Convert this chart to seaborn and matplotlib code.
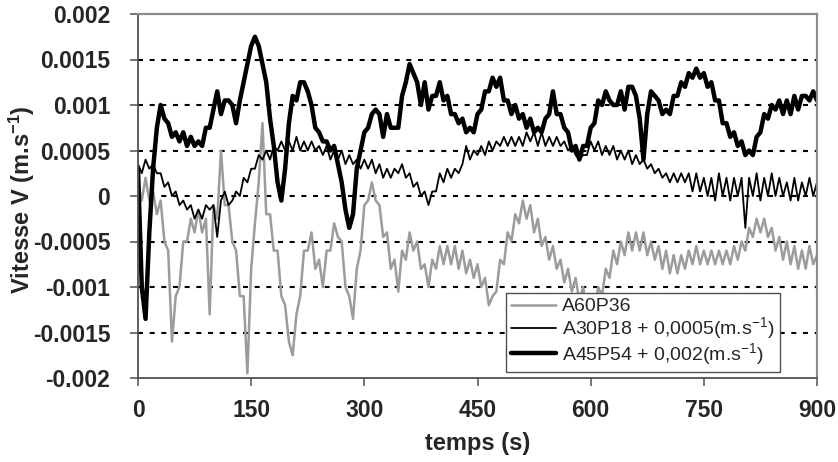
import numpy as np
import pandas as pd
import matplotlib
matplotlib.use("Agg")
import matplotlib.pyplot as plt
import seaborn as sns

# ---------------- data (values in units of 1e-4 m/s, sampled every 5 s) ----------------
time_s = np.arange(0, 901, 5)
UNIT = 1e-4

a60p36_e4 = [
    1.5, -0.5, 2, -0.5, 0.5, -2, -0.5, -5, -6, -16,
    -11, -10, -5, -5, -2.5, -4, -1.5, -4, -2.5, -13,
    -1, -2.5, 5, -1, -1, -5, -6, -11, -11, -19.5,
    -8, -3, 1.5, 8, -2, -2, -6, -6, -11, -12,
    -16, -17.5, -13, -11, -6, -6, -4, -8, -7, -10,
    -6, -6, -3, -4.5, -5, -10, -11, -13.5, -8, -6,
    -1, -0.5, 1.5, -0.5, -1, -4.5, -4, -8, -7, -10.5,
    -6, -7, -4, -6, -5, -8, -7.5, -10, -7, -8,
    -5.5, -7.5, -5.5, -7.5, -5.5, -8, -6, -8.5, -7, -9,
    -7.5, -10, -9, -12, -11, -10.5, -7, -7.5, -4, -5,
    -2, -3, -0.5, -2.5, -1, -4, -2.5, -5.5, -4.5, -7,
    -5.5, -8, -7, -9.5, -8, -10.5, -9, -11.5, -10, -12.5,
    -11, -12.5, -10, -11, -8, -9, -6, -7.5, -5, -6.5,
    -4, -6, -4, -6, -4, -6.5, -5, -7, -5.5, -8,
    -6, -8.5, -6.5, -8.5, -6.5, -8, -6, -7.5, -5.5, -7.5,
    -6, -7.5, -6, -7.5, -6, -7.5, -6, -7.5, -5.5, -7,
    -5, -6, -3.5, -4.5, -2.5, -4, -2.5, -4.5, -3.5, -6,
    -4.5, -7, -5, -7.5, -5.5, -8, -6, -8, -5.5, -7.5,
    -6.5,
]

a30p18_e4 = [
    3.5, 2.5, 4, 3, 3.5, 2.5, 2.5, 1, 1.5, 0,
    0.5, -1, -0.5, -1.5, -1, -2.5, -1.5, -2.5, -1, -1.5,
    -1, -4.5, -0.5, 0.5, -1, -0.5, 0.5, 0, 2, 1.5,
    3, 3, 4.5, 4, 5, 4, 5.5, 5, 6, 5,
    6, 5, 6.5, 5, 6, 5, 6, 5, 5.5, 4.5,
    5.5, 4, 5, 4, 5, 3.5, 4.5, 3.5, 4, 3,
    4, 3, 4, 2.5, 3.5, 2, 3, 2, 3, 2.5,
    3.5, 2, 2.5, 1, 1.5, 0, 0.5, -1, 0.5, 0.5,
    2.5, 1.5, 3, 2, 3, 2.5, 3.5, 5.5, 4, 5,
    4.5, 5.5, 4.5, 6, 5, 6, 5.5, 6.5, 5.5, 6.5,
    5.5, 6.5, 5.5, 7, 6, 7, 5.5, 7, 5.5, 6.5,
    5.5, 6.5, 5.5, 6, 5, 5.5, 4.5, 4, 4.5, 4.5,
    6, 5, 6, 4.5, 5.5, 4.5, 5.5, 4, 5, 4,
    5, 3.5, 4.5, 3.5, 4, 3, 3.5, 2.5, 3, 2,
    2.5, 1.5, 2.5, 1.5, 2.5, 1.5, 2.5, 0.5, 2.5, 0.5,
    2, 0, 2, -0.5, 2.5, 0, 2, -0.5, 2, 0,
    2, -3.5, 2, 0, 2.5, -0.5, 2, 0, 2.5, 0,
    2, 0, 1.5, -0.5, 2, -0.5, 1.5, 0, 2, 0,
    1.5,
]

a45p54_e4 = [
    3, -10, -13.5, -4, 3, 7.5, 10, 8.5, 8, 6.5,
    7, 6, 7, 5.5, 6.5, 5.5, 6, 5.5, 7.5, 7.5,
    9.5, 11.5, 9, 10.5, 10.5, 10, 8, 10.5, 12.5, 14.5,
    16.5, 17.5, 16.5, 14.5, 12.5, 8.5, 5.5, 1.5, -0.5, 3,
    8, 11, 10.5, 12.5, 12.5, 11.5, 10, 7.5, 7, 6,
    6, 5, 5.5, 3.5, 1.5, -1.5, -3.5, -2, 3, 5,
    7, 7.5, 9, 9.5, 9, 6.5, 9, 7.5, 7.5, 7.5,
    11, 12.5, 14.5, 13.5, 12.5, 10, 12.5, 9.5, 11, 11,
    12.5, 10.5, 11, 9, 9, 8, 8.5, 7, 7.5, 7,
    9, 9.5, 11.5, 11.5, 13, 12, 13, 10.5, 10.5, 9,
    10, 8.5, 9, 7.5, 8.5, 7, 7.5, 7, 8.5, 9,
    11.5, 9, 9, 7.5, 7, 5, 5.5, 4, 5.5, 5.5,
    7.5, 8, 10.5, 10, 11.5, 10.5, 10, 10, 11.5, 9.5,
    12, 12, 11, 8.5, 4, 9, 11.5, 11, 10.5, 9,
    9.5, 9, 11, 11, 12.5, 12, 13.5, 13, 14, 13,
    13.5, 12, 12.5, 10.5, 10.5, 8, 8, 6.5, 7, 5.5,
    6, 4.5, 5, 4.5, 6.5, 7, 9, 8.5, 10, 9.5,
    10.5, 9, 10.5, 9, 11, 9.5, 11, 11, 10.5, 11.5,
    10.5,
]

series_labels = ["A60P36",
                 "A30P18 + 0,0005(m.s$^{-1}$)",
                 "A45P54 + 0,002(m.s$^{-1}$)"]
series_values = [a60p36_e4, a30p18_e4, a45p54_e4]
series_colors = ["#9c9c9c", "#000000", "#000000"]
series_widths = [1.8, 1.3, 3.2]

x_ticks = [0, 150, 300, 450, 600, 750, 900]
y_ticks = [-0.002, -0.0015, -0.001, -0.0005, 0, 0.0005, 0.001, 0.0015, 0.002]
y_tick_labels = ["-0.002", "-0.0015", "-0.001", "-0.0005", "0",
                 "0.0005", "0.001", "0.0015", "0.002"]

frames = []
for lab, vals in zip(series_labels, series_values):
    frames.append(pd.DataFrame({"t": time_s, "v": np.asarray(vals) * UNIT, "series": lab}))
df = pd.concat(frames, ignore_index=True)

# ---------------- style ----------------
sns.set_theme(style="white")
plt.rcParams["font.family"] = ["Liberation Sans", "DejaVu Sans"]
plt.rcParams["mathtext.default"] = "regular"

fig = plt.figure(figsize=(8.38, 4.62), dpi=100)
ax = fig.add_axes([138 / 838, 1 - 378 / 462, (817 - 138) / 838, (378 - 14) / 462])

for lab, col, lw in zip(series_labels, series_colors, series_widths):
    sub = df[df["series"] == lab]
    sns.lineplot(data=sub, x="t", y="v", ax=ax, color=col, linewidth=lw,
                 label=lab, estimator=None, sort=False)

ax.set_xlim(0, 900)
ax.set_ylim(-0.002, 0.002)
ax.set_xticks(x_ticks)
ax.set_xticklabels([str(v) for v in x_ticks], fontsize=16.5, fontweight="bold")
ax.set_yticks(y_ticks)
ax.set_yticklabels(y_tick_labels, fontsize=16.5, fontweight="bold")

ax.yaxis.grid(True, color="black", linewidth=1.5, linestyle=(0, (2.4, 3.2)))
ax.xaxis.grid(False)
gl = ax.get_ygridlines()
gl[0].set_visible(False)
gl[-1].set_visible(False)
ax.set_axisbelow(True)

for side in ["left", "bottom"]:
    ax.spines[side].set_color("#505050")
    ax.spines[side].set_linewidth(1.3)
for side in ["top", "right"]:
    ax.spines[side].set_color("#8c8c8c")
    ax.spines[side].set_linewidth(1.6)

ax.tick_params(axis="both", which="major", direction="out", length=6, width=1.1,
               color="#505050", left=True, bottom=True)
ax.tick_params(axis="y", pad=14)
ax.tick_params(axis="x", pad=9)

ax.set_xlabel("temps (s)", fontsize=17, fontweight="bold")
ax.set_ylabel("Vitesse V (m.s$^{-1}$)", fontsize=17, fontweight="bold")
ax.xaxis.set_label_coords(0.5, -0.148)
ax.yaxis.set_label_coords(-0.149, 0.49)

leg = ax.legend(loc="lower right", bbox_to_anchor=(0.9455, 0.0165), borderaxespad=0,
                fontsize=14, frameon=True, fancybox=False, framealpha=1,
                edgecolor="#505050", handlelength=2.3, handletextpad=0.35,
                labelspacing=0.0, borderpad=0.25)
leg.get_frame().set_linewidth(1.0)

fig.savefig("out.png", dpi=100)
